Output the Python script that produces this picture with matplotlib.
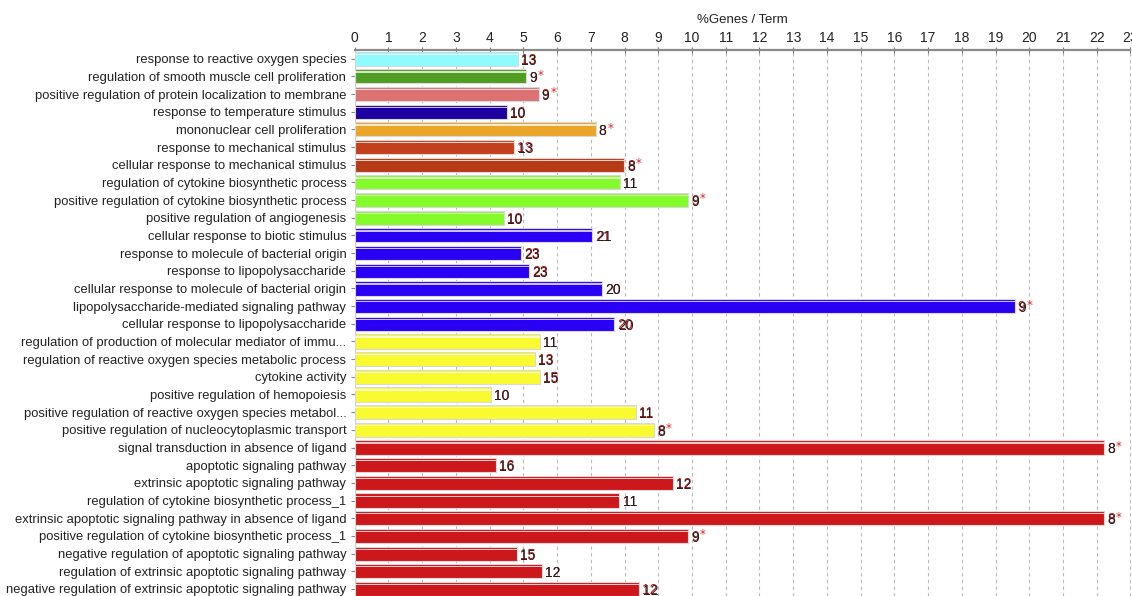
import matplotlib
matplotlib.use("Agg")
import matplotlib.pyplot as plt
import numpy as np

terms = [
    "response to reactive oxygen species",
    "regulation of smooth muscle cell proliferation",
    "positive regulation of protein localization to membrane",
    "response to temperature stimulus",
    "mononuclear cell proliferation",
    "response to mechanical stimulus",
    "cellular response to mechanical stimulus",
    "regulation of cytokine biosynthetic process",
    "positive regulation of cytokine biosynthetic process",
    "positive regulation of angiogenesis",
    "cellular response to biotic stimulus",
    "response to molecule of bacterial origin",
    "response to lipopolysaccharide",
    "cellular response to molecule of bacterial origin",
    "lipopolysaccharide-mediated signaling pathway",
    "cellular response to lipopolysaccharide",
    "regulation of production of molecular mediator of immu...",
    "regulation of reactive oxygen species metabolic process",
    "cytokine activity",
    "positive regulation of hemopoiesis",
    "positive regulation of reactive oxygen species metabol...",
    "positive regulation of nucleocytoplasmic transport",
    "signal transduction in absence of ligand",
    "apoptotic signaling pathway",
    "extrinsic apoptotic signaling pathway",
    "regulation of cytokine biosynthetic process_1",
    "extrinsic apoptotic signaling pathway in absence of ligand",
    "positive regulation of cytokine biosynthetic process_1",
    "negative regulation of apoptotic signaling pathway",
    "regulation of extrinsic apoptotic signaling pathway",
    "negative regulation of extrinsic apoptotic signaling pathway",
]

pct_genes = [4.83, 5.08, 5.45, 4.52, 7.14, 4.73, 7.99, 7.87, 9.89, 4.43,
             7.05, 4.94, 5.17, 7.33, 19.57, 7.70,
             5.49, 5.34, 5.49, 4.04, 8.33, 8.88,
             22.22, 4.18, 9.44, 7.85, 22.22, 9.89, 4.81, 5.55, 8.44]

gene_counts = [13, 9, 9, 10, 8, 13, 8, 11, 9, 10,
               21, 23, 23, 20, 9, 20,
               11, 13, 15, 10, 11, 8,
               8, 16, 12, 11, 8, 9, 15, 12, 12]

significant = [False, True, True, False, True, False, True, False, True, False,
               False, False, False, False, True, False,
               False, False, False, False, False, True,
               True, False, False, False, True, True, False, False, False]

bar_colors = ["#8ffbff", "#4f9e22", "#dc7272", "#1d00a0", "#eba62a", "#c2401c",
              "#b73a17", "#84fc2c", "#84fc2c", "#84fc2c",
              "#2a00f5", "#2a00f5", "#2a00f5", "#2a00f5", "#2a00f5", "#2a00f5",
              "#fafa30", "#fafa30", "#fafa30", "#fafa30", "#fafa30", "#fafa30",
              "#cc171b", "#cc171b", "#cc171b", "#cc171b", "#cc171b", "#cc171b",
              "#cc171b", "#cc171b", "#cc171b"]

x_ticks = list(range(0, 24))

W, H = 1132, 596
fig = plt.figure(figsize=(W / 100, H / 100), dpi=100)
x0, x1 = 354.7, 1130.5
ax = fig.add_axes([x0 / W, 0, (x1 - x0) / W, (H - 50) / H])

y = np.arange(len(terms))
bar_h = 0.8

ax.barh(y, pct_genes, height=bar_h, color=bar_colors,
        edgecolor="#d8d8d8", linewidth=0.8, zorder=3)
# glossy highlight strip near the top of each bar
ax.barh(y - bar_h / 2 + 0.15, pct_genes, height=0.07, color="white",
        alpha=0.75, linewidth=0, zorder=4)

label_font = ["Liberation Sans Narrow", "Liberation Sans"]
for yi, v, n, star in zip(y, pct_genes, gene_counts, significant):
    ax.annotate(str(n), xy=(v, yi), xytext=(2.2, -0.9), textcoords="offset points",
                ha="left", va="center", fontsize=10, color="#d01010",
                family=label_font, zorder=5)
    ax.annotate(str(n), xy=(v, yi), xytext=(2.4, -1.4), textcoords="offset points",
                ha="left", va="center", fontsize=10, color="#202020",
                family=label_font, zorder=6)
    if star:
        ax.annotate("*", xy=(v, yi), xytext=(8.4, 0.8), textcoords="offset points",
                    ha="left", va="center", fontsize=8.5, color="#e02020", zorder=6)

ax.set_xlim(0, 23)
ax.set_ylim(30.4, -0.49)
ax.set_xticks(x_ticks)
ax.xaxis.tick_top()
ax.xaxis.set_label_position("top")
ax.set_xlabel("%Genes / Term", fontsize=9.5, color="#222222", labelpad=6,
              family="Liberation Sans")
ax.tick_params(axis="x", which="major", direction="inout", length=4, width=0.8,
               color="#777777", labelsize=10, labelcolor="#222222", pad=1.5)
for lab in ax.get_xticklabels():
    lab.set_family("Liberation Sans")

ax.set_yticks(y)
ax.set_yticklabels(terms, fontsize=9.4, color="#222222", family="Liberation Sans")
ax.tick_params(axis="y", direction="out", length=3, width=0.8, color="#888888", pad=3)

ax.grid(axis="x", linestyle=(0, (3, 3)), color="#b8b8b8", linewidth=0.8, zorder=0)
ax.set_axisbelow(True)

for side in ["right", "bottom"]:
    ax.spines[side].set_visible(False)
ax.spines["top"].set_color("#8a8a8a")
ax.spines["top"].set_linewidth(1.6)
ax.spines["left"].set_color("#cccccc")
ax.spines["left"].set_linewidth(0.8)

fig.savefig("out.png", dpi=100)
